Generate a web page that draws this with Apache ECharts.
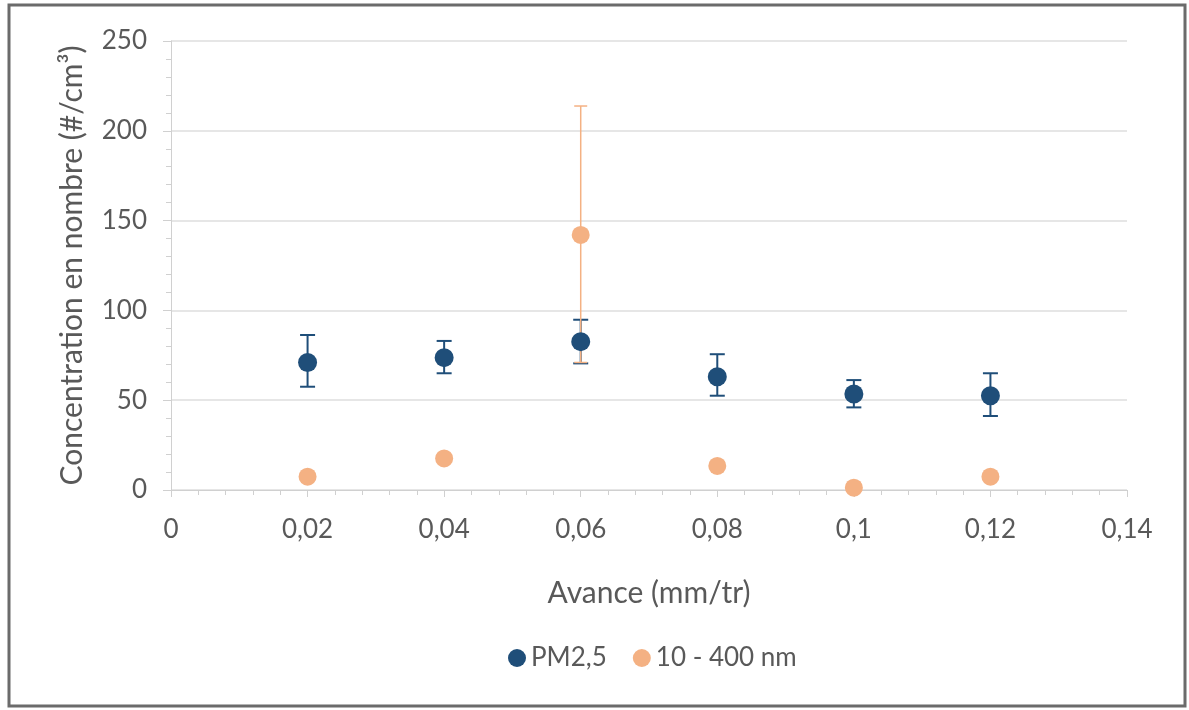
<!DOCTYPE html>
<html>
<head>
<meta charset="utf-8">
<script src="https://cdn.jsdelivr.net/npm/echarts@6/dist/echarts.min.js"></script>
<style>
html,body{margin:0;padding:0;background:#fff;}
#c{width:1189px;height:710px;}
</style>
</head>
<body>
<div id="c"></div>
<script>
const xValues = [0.02, 0.04, 0.06, 0.08, 0.10, 0.12];
const xTickLabels = ['0', '0,02', '0,04', '0,06', '0,08', '0,1', '0,12', '0,14'];
const pm25 = [71, 73.7, 82.6, 63.1, 53.5, 52.5];
const pm25Low = [57.5, 65, 70.5, 52.5, 46, 41.2];
const pm25High = [86.3, 83, 94.8, 75.6, 61.2, 65];
const nano = [7.4, 17.6, 142, 13.4, 1.3, 7.4];
const nanoLow = [null, null, 71, null, null, null];
const nanoHigh = [null, null, 213.8, null, null, null];
const seriesNames = ['PM2,5', '10 - 400 nm'];
const colors = ['#1f4e79', '#f4b183'];

const font = 'Lato, "Open Sans", sans-serif';
const txt = '#595959';

function errData(vals, lo, hi) {
  const out = [];
  xValues.forEach((x, i) => { if (lo[i] != null) out.push([x, lo[i], hi[i]]); });
  return out;
}
function errRender(color, capW, lw) {
  return function (params, api) {
    const x = api.value(0);
    const p1 = api.coord([x, api.value(1)]);
    const p2 = api.coord([x, api.value(2)]);
    const st = { stroke: color, lineWidth: lw };
    return {
      type: 'group',
      children: [
        { type: 'line', shape: { x1: p1[0], y1: p1[1], x2: p2[0], y2: p2[1] }, style: st },
        { type: 'line', shape: { x1: p1[0] - capW / 2, y1: p1[1], x2: p1[0] + capW / 2, y2: p1[1] }, style: st },
        { type: 'line', shape: { x1: p2[0] - capW / 2, y1: p2[1], x2: p2[0] + capW / 2, y2: p2[1] }, style: st }
      ]
    };
  };
}

const chart = echarts.init(document.getElementById('c'), null, { renderer: 'canvas' });
chart.setOption({
  backgroundColor: '#fff',
  animation: false,
  textStyle: { fontFamily: font },
  graphic: [{
    type: 'rect', silent: true, z: -10,
    shape: { x: 9, y: 5, width: 1176, height: 701 },
    style: { fill: 'none', stroke: '#6b6b6b', lineWidth: 3 }
  }],
  grid: { left: 171, right: 62, top: 41, bottom: 220 },
  legend: {
    data: seriesNames.map((n, i) => ({ name: n, icon: 'circle', itemStyle: { color: colors[i] } })),
    bottom: 34, left: 503,
    itemWidth: 18, itemHeight: 18, itemGap: 26,
    textStyle: { fontFamily: font, fontSize: 26, color: txt }
  },
  xAxis: {
    type: 'value', min: 0, max: 0.14, interval: 0.02,
    name: 'Avance (mm/tr)', nameLocation: 'middle', nameGap: 88,
    nameTextStyle: { fontFamily: font, fontSize: 30, color: txt },
    axisLine: { show: true, lineStyle: { color: '#d0d0d0', width: 1 } },
    axisTick: { show: true, inside: false, length: 7, lineStyle: { color: '#d0d0d0' } },
    minorTick: { show: true, splitNumber: 5, length: 5, lineStyle: { color: '#d0d0d0' } },
    splitLine: { show: false },
    axisLabel: {
      margin: 27, fontFamily: font, fontSize: 26, color: txt,
      formatter: v => xTickLabels[Math.round(v / 0.02)]
    }
  },
  yAxis: {
    type: 'value', min: 0, max: 250, interval: 50,
    name: 'Concentration en nombre (#/cm³)', nameLocation: 'middle', nameGap: 84,
    nameTextStyle: { fontFamily: font, fontSize: 30, color: txt },
    axisLine: { show: true, lineStyle: { color: '#d0d0d0', width: 1 } },
    axisTick: { show: true, inside: false, length: 8, lineStyle: { color: '#d0d0d0' } },
    minorTick: { show: true, splitNumber: 5, length: 5, lineStyle: { color: '#d0d0d0' } },
    splitLine: { show: true, lineStyle: { color: '#dedede', width: 1.5 } },
    axisLabel: { margin: 24, fontFamily: font, fontSize: 26, color: txt }
  },
  series: [
    {
      name: 'err-pm', type: 'custom', z: 2, silent: true,
      renderItem: errRender(colors[0], 15, 2),
      data: errData(pm25, pm25Low, pm25High), encode: { x: 0, y: [1, 2] }
    },
    {
      name: 'err-nano', type: 'custom', z: 3, silent: true,
      renderItem: errRender(colors[1], 13, 1.5),
      data: errData(nano, nanoLow, nanoHigh), encode: { x: 0, y: [1, 2] }
    },
    {
      name: seriesNames[0], type: 'scatter', z: 5, symbol: 'circle', symbolSize: 19,
      itemStyle: { color: colors[0], opacity: 1 },
      data: xValues.map((x, i) => [x, pm25[i]])
    },
    {
      name: seriesNames[1], type: 'scatter', z: 4, symbol: 'circle', symbolSize: 18,
      itemStyle: { color: colors[1], opacity: 1 },
      data: xValues.map((x, i) => [x, nano[i]])
    }
  ]
});
</script>
</body>
</html>
